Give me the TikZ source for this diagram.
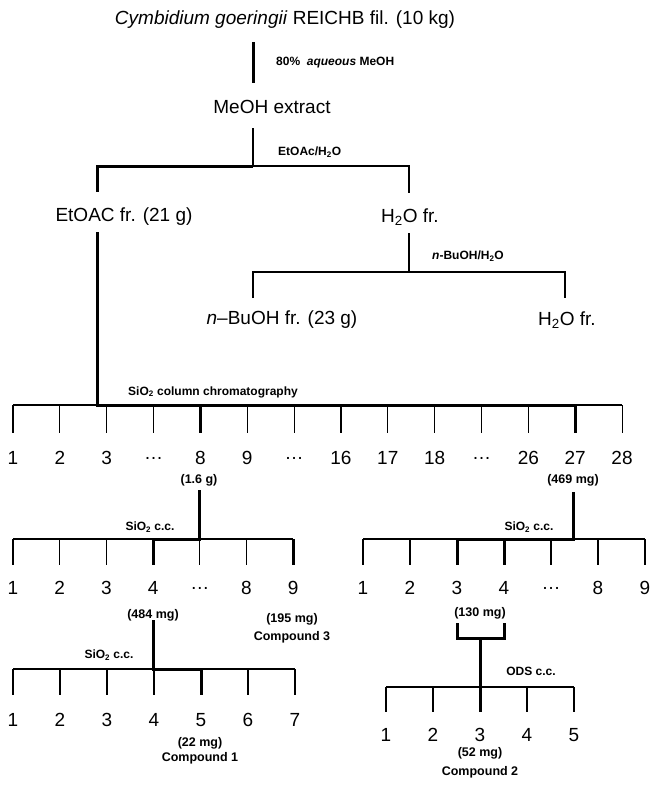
\documentclass[tikz,border=0pt]{standalone}
\usepackage{fontspec}
\setmainfont{Liberation Sans}
\usepackage{tikz}
\usetikzlibrary{positioning}

\tikzset{
  bigtxt/.style={font=\fontsize{19}{21}\selectfont, inner sep=0pt},
  smalltxt/.style={font=\bfseries\fontsize{12}{14}\selectfont, inner sep=0pt},
  masstxt/.style={font=\bfseries\fontsize{12.5}{14}\selectfont, inner sep=0pt},
  liteline/.style={line width=1.1pt},
  boldline/.style={line width=3pt}
}

\begin{document}
\begin{tikzpicture}[x=1pt,y=-1pt]
  \useasboundingbox (0,0) rectangle (649,785);

  % extraction
  \node[bigtxt] (plant) at (285,20) {\textit{Cymbidium goeringii} REICHB fil. (10 kg)};
  \coordinate (p1) at (253,42);
  \coordinate (p2) at (253,83);
  \draw[boldline] (p1) -- (p2);
  \node[smalltxt,anchor=west] (aqmeoh) at (276,63) {80\%\ \ \textit{aqueous} MeOH};

  \node[bigtxt] (mex) at (272,107) {MeOH extract};
  \coordinate (m1) at (253,128);
  \coordinate (m2) at (253,166);
  \node[smalltxt,anchor=west] (etw) at (278,152) {EtOAc/H\textsubscript{2}O};

  % partition 1
  \coordinate (e1) at (97,166);
  \coordinate (e2) at (97,192);
  \coordinate (w1) at (409,166);
  \coordinate (w2) at (409,193);
  \draw[liteline] (m1) -- (m2) -- (w1) -- (w2);
  \draw[boldline] (m2) -- (e1) -- (e2);

  \node[bigtxt] (etoac) at (124,217) {EtOAC fr. (21 g)};
  \node[bigtxt] (wfr) at (410,217) {H\textsubscript{2}O fr.};

  % partition 2
  \coordinate (w3) at (409,233);
  \coordinate (w4) at (409,272);
  \coordinate (bl) at (253,272);
  \coordinate (bl2) at (253,298);
  \coordinate (br) at (565,272);
  \coordinate (br2) at (565,298);
  \draw[liteline] (w3) -- (w4);
  \draw[liteline] (bl2) -- (bl) -- (br) -- (br2);
  \node[smalltxt,anchor=west] (buw) at (432,256) {\textit{n}-BuOH/H\textsubscript{2}O};

  \node[bigtxt] (buoh) at (282,320) {\textit{n}--BuOH fr. (23 g)};
  \node[bigtxt] (wfr2) at (567,320) {H\textsubscript{2}O fr.};

  % SiO2 column
  \node[smalltxt] (sio) at (213,392) {SiO\textsubscript{2} column chromatography};
  \coordinate (e3) at (97,232);
  \coordinate (e4) at (97,405);
  \foreach \i in {0,...,13} {
    \coordinate (t\i) at ({13+46.85*\i},405);
    \coordinate (tb\i) at ({13+46.85*\i},433);
    \draw[liteline] (t\i) -- (tb\i);
  }
  \draw[liteline] (t0) -- (t13);
  \draw[boldline] (e3) -- (e4) -- (t12) -- (tb12);
  \draw[boldline] (t4) -- (tb4);
  \foreach \i/\l in {0/1,1/2,2/3,3/\dots,4/8,5/9,6/\dots,7/16,8/17,9/18,10/\dots,11/26,12/27,13/28}
    \node[bigtxt] (n\i) at ({13+46.85*\i},458) {\l};
  \node[masstxt] (f8) at (199,480) {(1.6 g)};
  \node[masstxt] (f27) at (573,480) {(469 mg)};

  % fraction 8
  \coordinate (j8) at (199,490);
  \coordinate (j8b) at (199,539);
  \foreach \i in {0,...,6} {
    \coordinate (a\i) at ({13+46.7*\i},539);
    \coordinate (ab\i) at ({13+46.7*\i},565);
    \draw[liteline] (a\i) -- (ab\i);
  }
  \draw[liteline] (a0) -- (a6);
  \draw[boldline] (j8) -- (j8b) -- (a3) -- (ab3);
  \draw[boldline] (a6) -- (ab6);
  \node[smalltxt] (sioa) at (150,527) {SiO\textsubscript{2} c.c.};
  \foreach \i/\l in {0/1,1/2,2/3,3/4,4/\dots,5/8,6/9}
    \node[bigtxt] (an\i) at ({13+46.7*\i},588) {\l};

  % fraction 27
  \coordinate (j27) at (573,492);
  \coordinate (j27b) at (573,539);
  \foreach \i in {0,...,6} {
    \coordinate (c\i) at ({363+47*\i},539);
    \coordinate (cb\i) at ({363+47*\i},565);
    \draw[liteline] (c\i) -- (cb\i);
  }
  \draw[liteline] (c0) -- (c6);
  \draw[boldline] (j27) -- (j27b) -- (c2) -- (cb2);
  \draw[boldline] (c3) -- (cb3);
  \node[smalltxt] (sioc) at (529,527) {SiO\textsubscript{2} c.c.};
  \foreach \i/\l in {0/1,1/2,2/3,3/4,4/\dots,5/8,6/9}
    \node[bigtxt] (cn\i) at ({363+47*\i},588) {\l};

  % fraction 8-4 and 8-9
  \node[masstxt] (f84) at (153,615) {(484 mg)};
  \node[masstxt] (f89) at (292,619) {(195 mg)};
  \node[masstxt] (cp3) at (292,637) {Compound 3};
  \coordinate (j4) at (153,620);
  \coordinate (j4b) at (153,669);
  \foreach \i in {0,...,6} {
    \coordinate (d\i) at ({13+47*\i},669);
    \coordinate (db\i) at ({13+47*\i},695);
    \draw[liteline] (d\i) -- (db\i);
  }
  \draw[liteline] (d0) -- (d6);
  \draw[boldline] (j4) -- (j4b) -- (d4) -- (db4);
  \node[smalltxt] (siod) at (109,655) {SiO\textsubscript{2} c.c.};
  \foreach \i in {0,...,6}
    \node[bigtxt] (dn\i) at ({13+47*\i},720) {\pgfmathparse{int(\i+1)}\pgfmathresult};
  \node[masstxt] (f845) at (200,743) {(22 mg)};
  \node[masstxt] (cp1) at (200,758) {Compound 1};

  % fraction 27-3/4
  \node[masstxt] (f2734) at (480,613) {(130 mg)};
  \coordinate (k3) at (457,623);
  \coordinate (k3b) at (457,638);
  \coordinate (k4) at (504,623);
  \coordinate (k4b) at (504,638);
  \coordinate (km) at (480,638);
  \draw[boldline] (k3) -- (k3b) -- (k4b) -- (k4);
  \foreach \i in {0,...,4} {
    \coordinate (o\i) at ({386+47*\i},687);
    \coordinate (ob\i) at ({386+47*\i},712);
    \draw[liteline] (o\i) -- (ob\i);
  }
  \draw[liteline] (o0) -- (o4);
  \draw[boldline] (km) -- (ob2);
  \node[smalltxt] (ods) at (531,671) {ODS c.c.};
  \foreach \i in {0,...,4}
    \node[bigtxt] (on\i) at ({386+47*\i},735) {\pgfmathparse{int(\i+1)}\pgfmathresult};
  \node[masstxt] (f273) at (480,753) {(52 mg)};
  \node[masstxt] (cp2) at (480,772) {Compound 2};
\end{tikzpicture}
\end{document}
